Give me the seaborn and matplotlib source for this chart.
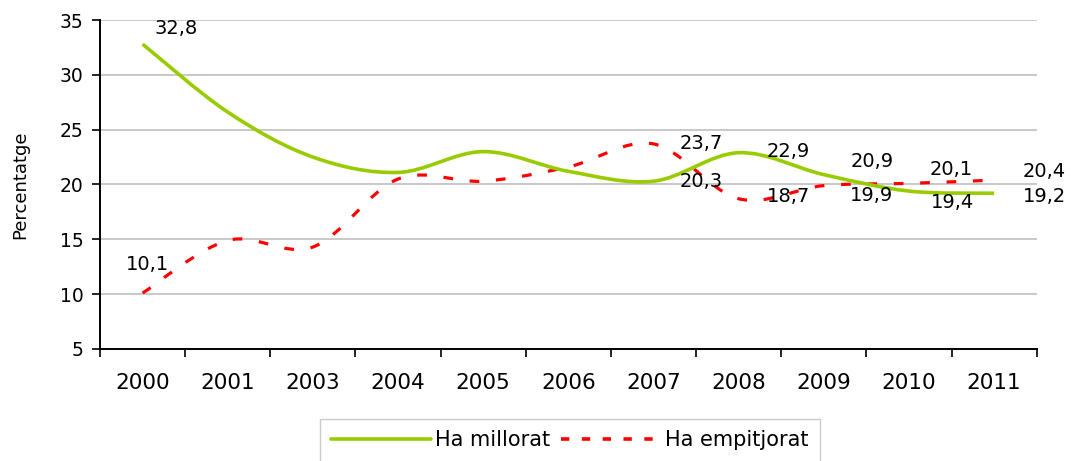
import matplotlib
matplotlib.use("Agg")
import matplotlib.pyplot as plt
from matplotlib.path import Path
from matplotlib.patches import PathPatch
from matplotlib.lines import Line2D
import seaborn as sns

# Data
years = ["2000", "2001", "2003", "2004", "2005", "2006", "2007", "2008", "2009", "2010", "2011"]
millorat = [32.8, 26.6, 22.5, 21.1, 23.0, 21.2, 20.3, 22.9, 20.9, 19.4, 19.2]
empitjorat = [10.1, 14.9, 14.3, 20.5, 20.3, 21.6, 23.7, 18.7, 19.9, 20.1, 20.4]
y_ticks = [5, 10, 15, 20, 25, 30, 35]

# labelled points: index -> offset of label centre in pixels (dx right, dy down)
lab_millorat = {0: (34, -16), 6: (48, 0), 7: (50, -1), 8: (48, -13), 9: (44, 11), 10: (50, 3)}
lab_empitjorat = {0: (5, -29), 6: (48, 0), 7: (50, -2), 8: (48, 10), 9: (42, -14), 10: (50, -9)}

GREEN = "#99CC00"
RED = "#FF0000"

sns.set_theme(style="white")
plt.rcParams["font.family"] = ["DejaVu Sans"]
plt.rcParams["lines.scale_dashes"] = False
for key in ("text.color", "axes.labelcolor", "xtick.color", "ytick.color"):
    plt.rcParams[key] = "black"


def smooth_path(ys):
    # Excel-like smoothed line: cubic Bezier segments through the data points
    xs = list(range(len(ys)))
    pts = list(zip(xs, ys))
    verts = [pts[0]]
    codes = [Path.MOVETO]
    n = len(pts)
    for i in range(n - 1):
        p0 = pts[max(i - 1, 0)]
        p1 = pts[i]
        p2 = pts[i + 1]
        p3 = pts[min(i + 2, n - 1)]
        c1 = (p1[0] + (p2[0] - p0[0]) / 6, p1[1] + (p2[1] - p0[1]) / 6)
        c2 = (p2[0] - (p3[0] - p1[0]) / 6, p2[1] - (p3[1] - p1[1]) / 6)
        verts += [c1, c2, p2]
        codes += [Path.CURVE4] * 3
    return Path(verts, codes)


fig = plt.figure(figsize=(10.71, 4.61), dpi=100)
ax = fig.add_axes([0.0934, 0.243, 0.968 - 0.0934, 0.9566 - 0.243])

red_dash = (0, (7, 12))
ax.add_patch(PathPatch(smooth_path(empitjorat), fill=False, edgecolor=RED,
                       linewidth=2.3, linestyle=red_dash, capstyle="butt", zorder=3))
ax.add_patch(PathPatch(smooth_path(millorat), fill=False, edgecolor=GREEN,
                       linewidth=2.6, capstyle="butt", zorder=4))


def fmt(v):
    return f"{v:.1f}".replace(".", ",")


for series, labs in ((millorat, lab_millorat), (empitjorat, lab_empitjorat)):
    for i, (dx, dy) in labs.items():
        ax.annotate(fmt(series[i]), (i, series[i]), xytext=(dx * 0.72, -dy * 0.72),
                    textcoords="offset points", ha="center", va="center",
                    fontsize=14, color="black", zorder=5)

ax.set_xlim(-0.5, len(years) - 0.5)
ax.set_ylim(5, 35)
ax.set_yticks(y_ticks)
ax.set_xticks(range(len(years)))
ax.set_xticklabels(years)
ax.set_xticks([i - 0.5 for i in range(len(years) + 1)], minor=True)
ax.tick_params(axis="x", which="major", length=0, pad=17, labelsize=15.5, labelcolor="black")
ax.tick_params(axis="x", which="minor", length=6, width=1.2, direction="out", color="black", bottom=True)
ax.tick_params(axis="y", length=6, width=1.2, direction="out", color="black", left=True,
               pad=6, labelsize=13.5, labelcolor="black")

ax.yaxis.grid(True, color="#BFBFBF", linewidth=1.2)
ax.set_axisbelow(True)
for s in ("top", "right"):
    ax.spines[s].set_visible(False)
for s in ("left", "bottom"):
    ax.spines[s].set_color("black")
    ax.spines[s].set_linewidth(1.4)

ax.set_ylabel("Percentatge", fontsize=13, labelpad=22, color="black")

handles = [Line2D([], [], color=GREEN, linewidth=2.6),
           Line2D([], [], color=RED, linewidth=2.6, linestyle=(0, (6, 9)))]
leg = fig.legend(handles, ["Ha millorat", "Ha empitjorat"], loc="upper center",
                 bbox_to_anchor=(570 / 1071, 1 - 419 / 461), ncol=2, frameon=True,
                 fancybox=False, edgecolor="#BFBFBF", fontsize=15, handlelength=4.8,
                 handletextpad=0.2, columnspacing=0.5, borderpad=0.55, borderaxespad=0)
for t in leg.get_texts():
    t.set_color("black")

fig.savefig("out.png", dpi=100)
